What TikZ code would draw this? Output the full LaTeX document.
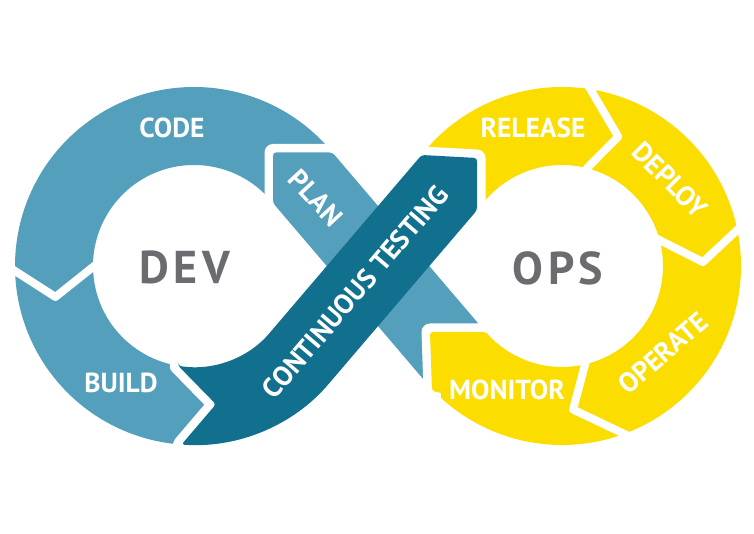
\documentclass[tikz,border=0pt]{standalone}
\usepackage{fontspec}
\setmainfont{PT Sans}
\usetikzlibrary{calc}
\definecolor{devblue}{HTML}{549FBC}
\definecolor{testblue}{HTML}{12708F}
\definecolor{opsyellow}{HTML}{FBDD00}
\definecolor{hubgrey}{HTML}{6B6C6F}
\def\testpath{($(dev)+(-99:101)$) -- ($(dev)+(-81:140)$) -- ($(dev)+(-94:179)$)
  arc[start angle=-94, end angle=-40.5, radius=179] -- (477,323.8) -- (477,376) -- (421.6,379)
  -- ($(dev)+(-40.5:101)$) arc[start angle=-40.5, end angle=-99, radius=101] -- cycle}
\begin{document}
\begin{tikzpicture}[x=1pt,y=1pt,
  gap/.style={draw=white, line width=8pt, line join=round},
  rim/.style={draw=white, line width=17pt, line join=round},
  lbl/.style={text=white, inner sep=0pt, font=\bfseries\fontsize{27.5}{27.5}\selectfont},
  hub/.style={text=hubgrey, inner sep=0pt, font=\bfseries\fontsize{46}{46}\selectfont\addfontfeatures{LetterSpace=10}}]
\fill[white] (0,0) rectangle (754,534);
\useasboundingbox (0,0) rectangle (754,534);
\coordinate (dev) at (194,268);
\coordinate (ops) at (562,268);

\fill[devblue] ($(dev)+(40.5:179)$) arc[start angle=40.5, end angle=280, radius=179]
  -- ($(dev)+(280:101)$) arc[start angle=280, end angle=40.5, radius=101] -- cycle;
\draw[gap] ($(dev)+(179:192)$) -- ($(dev)+(192.6:142)$) -- ($(dev)+(176:92)$);

\fill[opsyellow] ($(ops)+(145:179)$) arc[start angle=145, end angle=-139.5, radius=179]
  -- ($(ops)+(-139.5:101)$) arc[start angle=-139.5, end angle=145, radius=101] -- cycle;
\draw[gap] ($(ops)+(84:192)$) -- ($(ops)+(66.5:141)$) -- ($(ops)+(79:92)$);
\draw[gap] ($(ops)+(20:92)$) -- ($(ops)+(1.6:141)$) -- ($(ops)+(14:192)$);
\draw[gap] ($(ops)+(-73:90)$) -- ($(ops)+(-85.6:144)$) -- ($(ops)+(-66:192)$);

\draw[rim] \testpath;
\draw[rim] ($(ops)+(220.5:179)$) -- (273,331) -- (273,381.5) -- (332.4,381.5) -- ($(ops)+(220.5:101)$);
\fill[devblue, rounded corners=3pt] (273,331) -- (273,381.5) -- (332.4,381.5)
  -- ($(ops)+(220.5:101)$) -- ($(ops)+(220.5:179)$) -- cycle;
\draw[rim, line cap=butt] (485.5,202) -- (430,202) -- (432,143) -- (434,118);
\fill[opsyellow, rounded corners=3pt] (430,202) -- (485.5,202) arc[start angle=220.8, end angle=250, radius=101]
  -- ($(ops)+(250:150)$) -- (432,143) -- cycle;
\fill[testblue, rounded corners=3pt] \testpath;

\node[hub] (devtxt) at (185,267) {DEV};
\node[hub] (opstxt) at (558,266) {OPS};
\node[lbl] (code) at (172,406) {CODE};
\node[lbl] (build) at (121,151) {BUILD};
\node[lbl, rotate=-47] (plan) at (316,336) {PLAN};
\node[lbl, rotate=49.5] (testing) at (355,242) {CONTINUOUS TESTING};
\node[lbl] (release) at (533,406) {RELEASE};
\node[lbl, rotate=-45] (deploy) at (670,354) {DEPLOY};
\node[lbl, rotate=41] (operate) at (663,181) {OPERATE};
\node[lbl] (monitor) at (507,144) {MONITOR};
\end{tikzpicture}
\end{document}
